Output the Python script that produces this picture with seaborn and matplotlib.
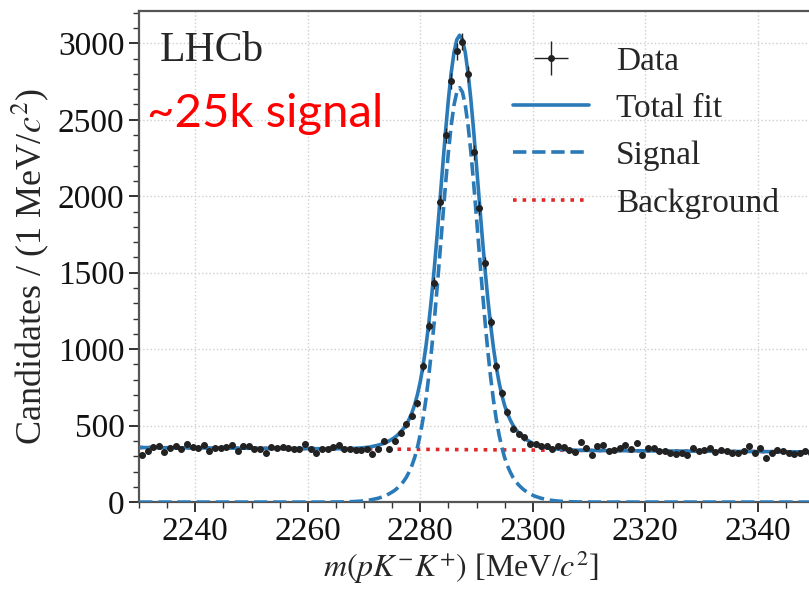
import matplotlib
matplotlib.use("Agg")
import matplotlib.pyplot as plt
import numpy as np
import seaborn as sns
from matplotlib.ticker import MultipleLocator

# binned data, 1 MeV bins from 2230 to 2350
bin_lo, bin_hi = 2230.0, 2350.0
counts = [
    310, 333, 360, 366, 330, 352, 366, 346, 382, 358,
    355, 372, 335, 356, 356, 360, 376, 332, 366, 365,
    348, 348, 322, 358, 356, 360, 352, 348, 348, 380,
    345, 320, 346, 348, 360, 376, 347, 345, 340, 340,
    344, 314, 344, 399, 346, 399,
    455, 510, 565, 645, 889, 1150, 1431, 1961, 2399, 2752,
    2948, 3010, 2797, 2288, 1922, 1562, 1176, 889, 712, 590, 480,
    444, 423, 383, 380, 368, 370, 346, 368, 357, 342,
    325, 390, 353, 310, 366, 373, 333, 340, 351, 373,
    344, 388, 307, 351, 351, 333, 336, 318, 314, 318,
    307, 351, 336, 340, 351, 325, 340, 333, 322, 322,
    333, 366, 322, 351, 290, 318, 340, 336, 322, 314,
    318, 336, 322,
]

# fit curves sampled every 0.5 MeV around the peak (2262 .. 2312)
signal_fit = [
    0, 0.1, 0.1, 0.2, 0.3, 0.4, 0.6, 0.8, 1.0, 1.4,
    1.8, 2.4, 3.1, 4.1, 5.2, 6.7, 8.5, 10.7, 13, 17,
    21, 25, 31, 37, 45, 55, 66, 78, 94, 112,
    134, 161, 196, 238, 291, 359, 443, 546, 671, 820,
    993, 1188, 1402, 1628, 1858, 2082, 2288, 2463, 2597, 2681,
    2710,
    2681, 2597, 2463, 2288, 2082, 1858, 1628, 1402, 1188, 993,
    820, 671, 546, 443, 359, 291, 238, 196, 161, 134,
    112, 94, 78, 66, 55, 45, 37, 31, 25, 21,
    17, 13, 10.7, 8.5, 6.7, 5.2, 4.1, 3.1, 2.4, 1.8,
    1.4, 1.0, 0.8, 0.6, 0.4, 0.3, 0.2, 0.1, 0.1, 0,
]
total_fit = [
    349, 349, 349, 349, 349, 349, 349, 349, 349, 350,
    350, 350, 351, 352, 353, 354, 356, 358, 360, 364,
    368, 372, 378, 383, 391, 401, 412, 424, 440, 458,
    480, 506, 541, 583, 636, 704, 788, 891, 1016, 1165,
    1337, 1532, 1746, 1972, 2202, 2426, 2632, 2807, 2941, 3024,
    3053,
    3024, 2940, 2806, 2631, 2425, 2200, 1970, 1744, 1530, 1335,
    1162, 1013, 888, 785, 700, 632, 579, 537, 502, 475,
    453, 435, 418, 406, 395, 385, 377, 371, 365, 361,
    356, 352, 350, 348, 346, 344, 343, 342, 341, 340,
    340, 339, 339, 338, 338, 338, 338, 338, 337, 337,
]
bkg_mass = [2230, 2350]
bkg_fit = [357, 328]
total_edges = [357, 328]  # total fit at 2230 and 2350 (background only there)

BLUE = "#2a7ab8"
RED = "#e0282a"


def main() -> None:
    sns.set_style("ticks")
    plt.rcParams["font.family"] = ["Liberation Serif", "DejaVu Serif"]
    plt.rcParams["mathtext.fontset"] = "stix"

    centers = np.arange(bin_lo + 0.5, bin_hi, 1.0)
    n = np.array(counts, dtype=float)
    fit_mass = np.arange(2262.0, 2312.5, 0.5)
    fit_x = np.concatenate([[bin_lo], fit_mass, [bin_hi]])
    sig_y = np.concatenate([[0], signal_fit, [0]])
    tot_y = np.concatenate([[total_edges[0]], total_fit, [total_edges[1]]])

    fig = plt.figure(figsize=(8.09, 5.90), dpi=100)
    ax = fig.add_axes([0.172, 0.149, 0.834, 0.832])

    sns.lineplot(x=bkg_mass, y=bkg_fit, ax=ax, color=RED, linestyle=":", linewidth=2.6, label="Background", zorder=2)
    sns.lineplot(x=fit_x, y=sig_y, ax=ax, color=BLUE, linestyle="--", linewidth=2.6, label="Signal", zorder=3)
    sns.lineplot(x=fit_x, y=tot_y, ax=ax, color=BLUE, linewidth=2.6, label="Total fit", zorder=3)
    ax.errorbar(centers, n, xerr=0.5, yerr=np.sqrt(n), fmt="o", color="#222222", markersize=4,
                elinewidth=1.0, capsize=0, label="Data", zorder=4)

    ax.set_xlim(bin_lo, bin_hi)
    ax.set_ylim(0, 3210)
    ax.xaxis.set_major_locator(MultipleLocator(20))
    ax.xaxis.set_minor_locator(MultipleLocator(5))
    ax.yaxis.set_major_locator(MultipleLocator(500))
    ax.yaxis.set_minor_locator(MultipleLocator(100))
    ax.tick_params(which="major", direction="out", length=7, width=1.2, labelsize=24, colors="#111111")
    ax.tick_params(which="minor", direction="out", length=4, width=1.0, colors="#333333")
    ax.grid(True, which="major", linestyle=":", color="#cfcfcf", linewidth=1.0)
    for side in ["top", "left", "bottom"]:
        ax.spines[side].set_color("#555555")
        ax.spines[side].set_linewidth(1.6)
    ax.spines["right"].set_visible(False)

    ax.set_xlabel(r"$m(pK^{-}K^{+})$ [MeV/$c^{2}$]", fontsize=23)
    ax.xaxis.set_label_coords(0.477, -0.095)
    ax.set_ylabel(r"Candidates / (1 MeV/$c^{2}$)", fontsize=26)
    ax.yaxis.set_label_coords(-0.13, 0.48)

    ax.text(0.031, 0.92, "LHCb", transform=ax.transAxes, fontsize=30, va="center", ha="left")
    ax.text(0.012, 0.79, "~25k signal", transform=ax.transAxes, fontsize=34, color="red",
            va="center", ha="left", family=["Lato", "DejaVu Sans"])

    h, l = ax.get_legend_handles_labels()
    order = [l.index(k) for k in ["Data", "Total fit", "Signal", "Background"]]
    ax.legend([h[i] for i in order], [l[i] for i in order], loc="upper right", bbox_to_anchor=(0.993, 0.99),
              frameon=False, fontsize=24, handlelength=2.3, labelspacing=0.5, handletextpad=0.8)

    fig.savefig("out.png", dpi=100)
    plt.close(fig)


if __name__ == "__main__":
    main()
